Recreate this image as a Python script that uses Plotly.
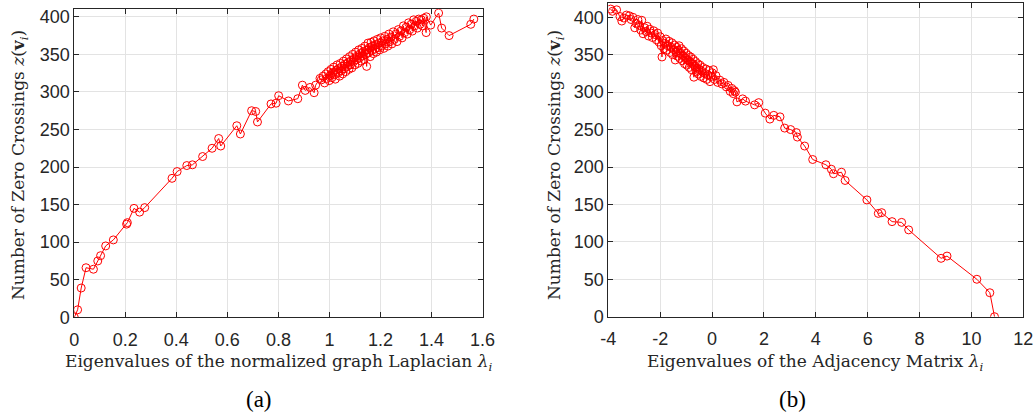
import plotly.graph_objects as go

# Left panel: normalized Laplacian eigenvalues vs zero crossings
lap_x = [0.000, 0.013, 0.027, 0.046, 0.075, 0.092, 0.103, 0.123, 0.153, 0.205, 0.208, 0.234, 0.256, 0.276,
         0.383, 0.403, 0.441, 0.463, 0.503, 0.540, 0.566, 0.574, 0.637, 0.651, 0.695, 0.711, 0.718, 0.771,
         0.791, 0.801, 0.839, 0.876, 0.894, 0.905, 0.924, 0.940, 0.946, 0.963,
         0.968, 0.975, 0.981, 0.986, 0.990, 0.995, 0.999, 1.003, 1.006, 1.010, 1.013, 1.017, 1.020, 1.023,
         1.027, 1.030, 1.033, 1.036, 1.040, 1.043, 1.046, 1.049, 1.052, 1.055, 1.058, 1.061, 1.064, 1.067,
         1.070, 1.073, 1.076, 1.079, 1.082, 1.085, 1.088, 1.091, 1.094, 1.097, 1.100, 1.103, 1.106, 1.109,
         1.112, 1.115, 1.118, 1.121, 1.124, 1.127, 1.130, 1.133, 1.136, 1.139, 1.142, 1.146, 1.148, 1.151,
         1.154, 1.157, 1.160, 1.163, 1.166, 1.169, 1.172, 1.175, 1.178, 1.181, 1.184, 1.188, 1.191, 1.194,
         1.197, 1.201, 1.205, 1.209, 1.213, 1.217, 1.221, 1.225, 1.229, 1.233, 1.237, 1.241, 1.245, 1.250,
         1.255, 1.260, 1.265, 1.270, 1.275, 1.280, 1.285, 1.290, 1.295, 1.300, 1.305, 1.310, 1.315, 1.320,
         1.325, 1.330, 1.335, 1.340, 1.345, 1.350, 1.355, 1.360, 1.365, 1.370,
         1.379, 1.380, 1.397, 1.428, 1.440, 1.469, 1.554, 1.566]
lap_y = [0, 10, 39, 66, 64, 75, 82, 95, 103, 124, 126, 145, 140, 146,
         185, 194, 202, 203, 214, 225, 238, 228, 255, 244, 275, 274, 260, 284,
         285, 295, 288, 291, 309, 302, 306, 299, 309, 318,
         316, 321, 312, 324, 318, 327, 315, 322, 330, 319, 326, 333, 323, 317,
         329, 336, 325, 331, 321, 338, 328, 334, 324, 341, 331, 337, 327, 344,
         334, 339, 330, 347, 336, 342, 332, 350, 340, 345, 336, 353, 343, 348,
         338, 356, 345, 351, 341, 358, 348, 354, 343, 361, 350, 334, 356, 365,
         352, 359, 347, 366, 355, 361, 351, 368, 357, 363, 353, 370, 359, 365,
         356, 372, 361, 368, 358, 374, 364, 370, 361, 377, 367, 373, 364, 380,
         370, 377, 367, 383, 374, 381, 372, 388, 379, 386, 377, 392, 383, 390,
         381, 396, 388, 394, 385, 397, 390, 396, 388, 398,
         379, 400, 389, 405, 385, 375, 390, 397]

# Right panel: adjacency eigenvalues vs zero crossings
adj_x = [-3.91, -3.84, -3.68, -3.55, -3.48, -3.40, -3.30, -3.19, -3.12, -3.05, -2.98, -2.93, -2.86, -2.80,
         -2.75, -2.71, -2.66, -2.60, -2.55, -2.50, -2.45, -2.40, -2.35, -2.30, -2.25, -2.20, -2.15, -2.10,
         -2.05, -2.00, -1.96, -1.93, -1.90, -1.86, -1.82, -1.78, -1.74, -1.70, -1.66, -1.62, -1.58, -1.55,
         -1.52, -1.48, -1.45, -1.42, -1.39, -1.36, -1.33, -1.30, -1.27, -1.24, -1.21, -1.18, -1.15, -1.12,
         -1.09, -1.06, -1.03, -1.00, -0.97, -0.94, -0.91, -0.88, -0.85, -0.82, -0.79, -0.76, -0.73, -0.70,
         -0.67, -0.64, -0.61, -0.58, -0.55, -0.52, -0.49, -0.46, -0.43, -0.40, -0.36, -0.32, -0.28, -0.24,
         -0.20, -0.16, -0.12, -0.08, -0.04, 0.00, 0.05, 0.10, 0.15, 0.22, 0.30, 0.38, 0.46, 0.55, 0.62,
         0.70, 0.76, 0.82, 0.86, 0.90,
         0.96, 1.18, 1.29, 1.64, 1.80, 2.05, 2.23, 2.38, 2.62, 2.80, 3.03, 3.25, 3.29, 3.57, 3.88, 4.39,
         4.60, 4.68, 4.99, 5.13, 5.97, 6.41, 6.54, 6.94, 7.31, 7.58, 8.83, 9.06, 10.21, 10.71, 10.89]
adj_y = [411, 408, 410, 401, 395, 399, 403, 402, 397, 400, 386, 392, 397, 389,
         383, 396, 378, 386, 381, 388, 375, 384, 379, 373, 382, 377, 370, 379,
         367, 374, 362, 347, 369, 358, 365, 371, 356, 362, 368, 353, 360, 366,
         350, 357, 363, 343, 354, 360, 348, 356, 362, 345, 352, 358, 342, 349,
         355, 338, 346, 352, 336, 343, 349, 333, 341, 347, 330, 338, 344, 320,
         335, 341, 327, 332, 338, 324, 330, 336, 321, 328, 333, 319, 325, 331,
         317, 323, 329, 314, 321, 326, 330, 317, 322, 313, 316, 311, 313, 307, 309,
         301, 305, 298, 302, 300,
         287, 291, 288, 283, 286, 272, 264, 269, 267, 252, 250, 246, 240, 228, 210, 203,
         197, 191, 193, 182, 156, 138, 139, 127, 126, 116, 78, 81, 50, 32, 0]

lap_ticks = [0, 0.2, 0.4, 0.6, 0.8, 1, 1.2, 1.4, 1.6]
adj_ticks = [-4, -2, 0, 2, 4, 6, 8, 10, 12]
y_ticks = [0, 50, 100, 150, 200, 250, 300, 350, 400]

RED = "#ff0000"
AX = "#262626"
GRID = "#e3e3e3"
TICKFONT = dict(family="Liberation Sans, Arial, sans-serif", size=18, color=AX)
SERIF = "DejaVu Serif, serif"

fig = go.Figure()
fig.add_trace(go.Scatter(x=lap_x, y=lap_y, mode="lines+markers", xaxis="x", yaxis="y",
                         line=dict(color=RED, width=1),
                         marker=dict(symbol="circle-open", size=8, color=RED, line=dict(width=1)),
                         showlegend=False))
fig.add_trace(go.Scatter(x=adj_x, y=adj_y, mode="lines+markers", xaxis="x2", yaxis="y2",
                         line=dict(color=RED, width=1),
                         marker=dict(symbol="circle-open", size=8, color=RED, line=dict(width=1)),
                         showlegend=False))

W, H = 1035, 414

def axis_common():
    return dict(showline=True, linecolor=AX, linewidth=1, mirror="ticks", ticks="inside",
                ticklen=5, tickcolor=AX, tickwidth=1, showgrid=True, gridcolor=GRID, gridwidth=1,
                zeroline=False, tickfont=TICKFONT, automargin=False)

fig.update_layout(
    width=W, height=H,
    margin=dict(l=0, r=0, t=0, b=0, autoexpand=False),
    paper_bgcolor="white", plot_bgcolor="white",
    xaxis=dict(domain=[74.3 / W, 482.5 / W], range=[0, 1.6], tickvals=lap_ticks,
               ticktext=[str(t) for t in lap_ticks], anchor="y", ticklabelstandoff=6,
               **axis_common()),
    yaxis=dict(domain=[1 - 317.3 / H, 1 - 9.3 / H], range=[0, 410], tickvals=y_ticks,
               anchor="x", **axis_common()),
    xaxis2=dict(domain=[608.3 / W, 1023.3 / W], range=[-4, 12], tickvals=adj_ticks,
                ticktext=[str(t) for t in adj_ticks], anchor="y2", ticklabelstandoff=6,
                **axis_common()),
    yaxis2=dict(domain=[1 - 316.7 / H, 1 - 2.7 / H], range=[0, 419.5], tickvals=y_ticks,
                anchor="x2", **axis_common()),
)

ann = []
ytitle = "Number of Zero Crossings <i>z</i>(<b>v</b><sub><i>i</i></sub>)"
ann.append(dict(text=ytitle, x=19 / W, y=1 - 165 / H, textangle=-90))
ann.append(dict(text=ytitle, x=555 / W, y=1 - 165 / H, textangle=-90))
ann.append(dict(text="Eigenvalues of the normalized graph Laplacian <i>λ</i><sub><i>i</i></sub>",
                x=278 / W, y=1 - 362 / H))
ann.append(dict(text="Eigenvalues of the Adjacency Matrix <i>λ</i><sub><i>i</i></sub>",
                x=815 / W, y=1 - 362 / H))
for a in ann:
    a.update(xref="paper", yref="paper", showarrow=False, xanchor="center", yanchor="middle",
             font=dict(family=SERIF, size=17, color=AX))
ann.append(dict(text="(a)", x=259 / W, y=1 - 399 / H, xref="paper", yref="paper", showarrow=False,
                xanchor="center", yanchor="middle",
                font=dict(family="Liberation Serif, serif", size=23, color="black")))
ann.append(dict(text="(b)", x=792 / W, y=1 - 399 / H, xref="paper", yref="paper", showarrow=False,
                xanchor="center", yanchor="middle",
                font=dict(family="Liberation Serif, serif", size=23, color="black")))
fig.update_layout(annotations=ann)

fig.write_html("out.html")
